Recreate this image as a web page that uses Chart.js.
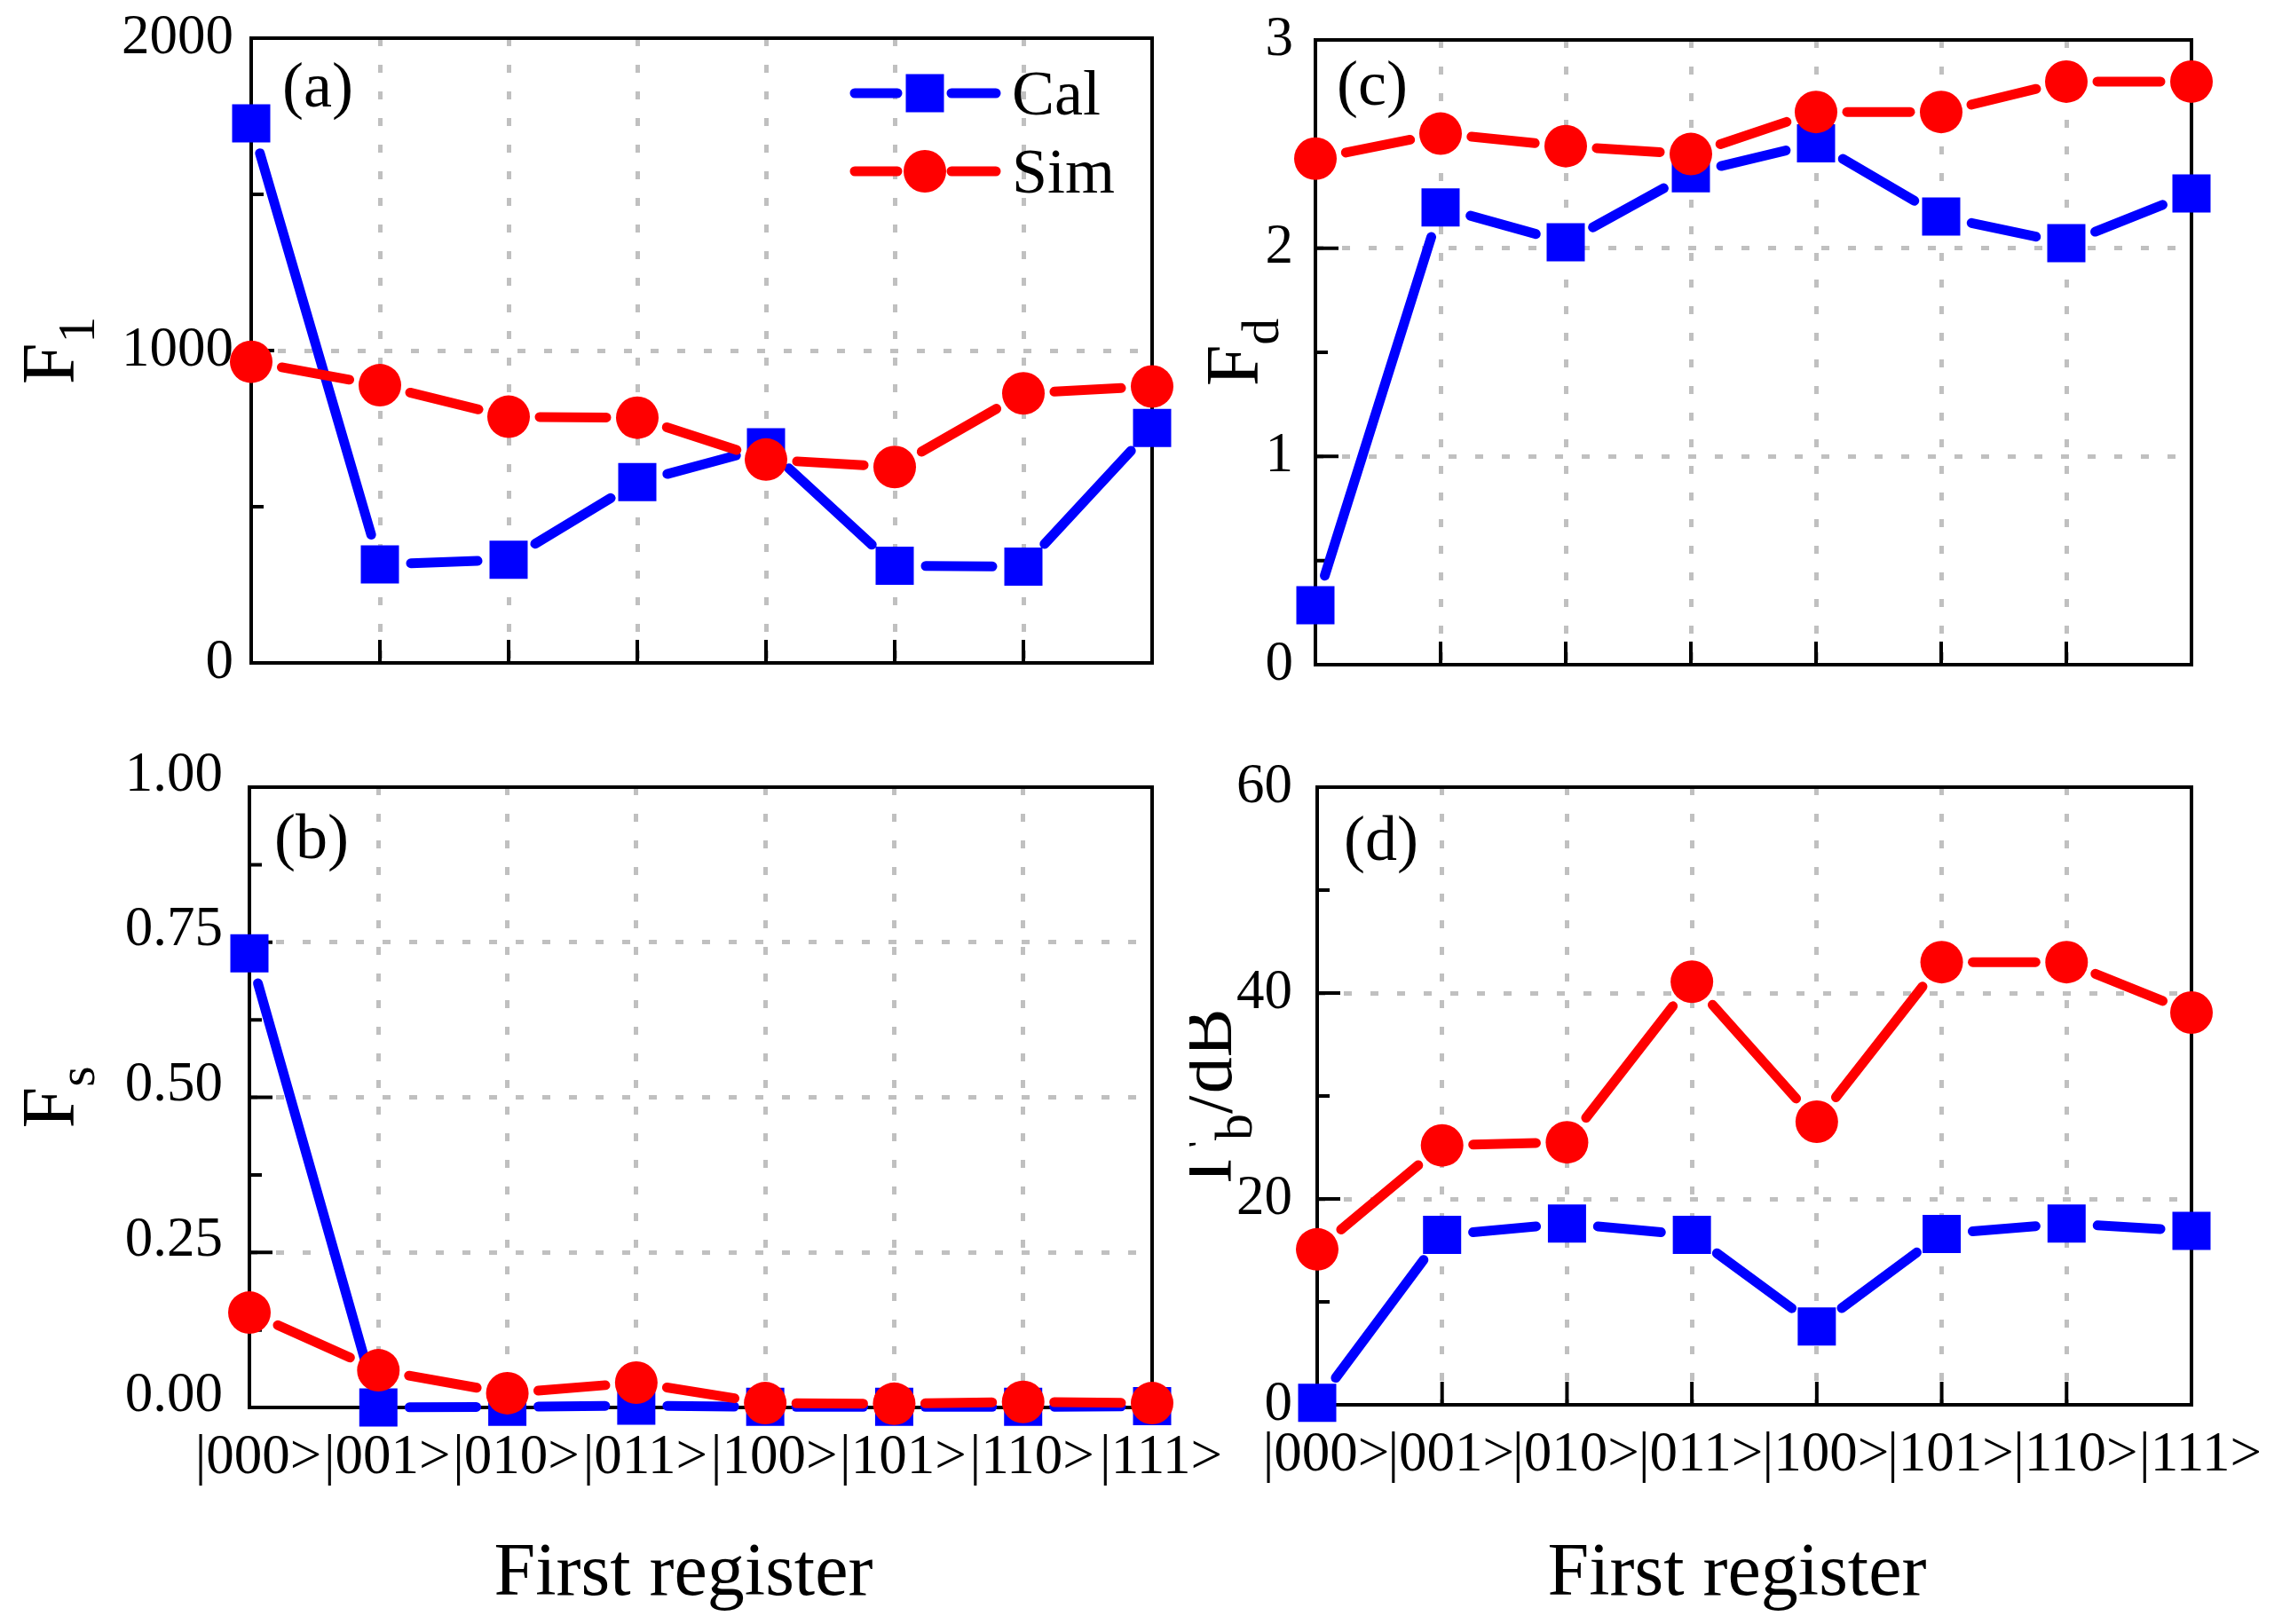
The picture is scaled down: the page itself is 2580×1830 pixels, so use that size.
<!DOCTYPE html>
<html>
<head>
<meta charset="utf-8">
<script src="https://cdn.jsdelivr.net/npm/chart.js@4/dist/chart.umd.min.js"></script>
<style>
  html, body { margin: 0; padding: 0; background: #ffffff; }
  body { width: 2580px; height: 1830px; position: relative; overflow: hidden; }
  canvas { position: absolute; }
</style>
</head>
<body>
<canvas id="ca"></canvas>
<canvas id="cb"></canvas>
<canvas id="cc"></canvas>
<canvas id="cd"></canvas>
<script>
// ---------------- data ----------------
const categories = ['|000>', '|001>', '|010>', '|011>', '|100>', '|101>', '|110>', '|111>'];
const seriesNames = ['Cal', 'Sim'];

const f1Cal = [1727, 315, 330, 579, 690, 311, 308, 752];
const f1Sim = [964, 889, 788, 785, 651, 627, 863, 885];

const fsCal = [0.732, 0.000, 0.001, 0.003, 0.001, 0.001, 0.001, 0.002];
const fsSim = [0.153, 0.060, 0.023, 0.040, 0.007, 0.006, 0.009, 0.007];

const fdCal = [0.285, 2.196, 2.028, 2.360, 2.504, 2.152, 2.024, 2.263];
const fdSim = [2.430, 2.550, 2.490, 2.452, 2.654, 2.654, 2.800, 2.800];

const gbCal = [0.2, 16.5, 17.6, 16.5, 7.6, 16.6, 17.6, 16.9];
const gbSim = [15.1, 25.2, 25.5, 41.1, 27.5, 43.0, 43.0, 38.1];

// tick values (major = labelled, minor = unlabelled)
const f1Major = [0, 1000, 2000];
const f1Minor = [500, 1500];
const fsMajor = [0, 0.25, 0.5, 0.75, 1.0];
const fsMinor = [0.125, 0.375, 0.625, 0.875];
const fdMajor = [0, 1, 2, 3];
const fdMinor = [0.5, 1.5, 2.5];
const gbMajor = [0, 20, 40, 60];
const gbMinor = [10, 30, 50];

const xTitleText = 'First register';

// ---------------- layout / style ----------------
const FONT = '"Liberation Serif", "Times New Roman", serif';
const BLUE = '#0000ff';
const RED = '#ff0000';
const GRID = '#c0c0c0';
const GAP = 35;
const LINE_W = 11;

const panels = [
  { id: 'ca', canvas: [0, -40, 1340, 870], area: [283, 43, 1298, 747],
    cal: f1Cal, sim: f1Sim, major: f1Major, minor: f1Minor, dec: 0, lpad: 20, lshift: 0,
    xLabels: false, letter: ['(a)', 318, 120],
    title: { parts: [['F', 84, 0], ['1', 60, 23]], bx: 83 }, legend: true },
  { id: 'cb', canvas: [0, 790, 1420, 1040], area: [281, 887, 1298, 1586],
    cal: fsCal, sim: fsSim, major: fsMajor, minor: fsMinor, dec: 2, lpad: 30, lshift: -13,
    xLabels: true, letter: ['(b)', 309, 967],
    title: { parts: [['F', 84, 0], ['s', 60, 23]], bx: 83 }, xTitle: [770, 1797] },
  { id: 'cc', canvas: [1340, -40, 1240, 870], area: [1482, 45, 2469, 749],
    cal: fdCal, sim: fdSim, major: fdMajor, minor: fdMinor, dec: 0, lpad: 25, lshift: 0,
    xLabels: false, letter: ['(c)', 1506, 118],
    title: { parts: [['F', 84, 0], ['d', 60, 23]], bx: 1417 } },
  { id: 'cd', canvas: [1340, 790, 1240, 1040], area: [1484, 887, 2469, 1583],
    cal: gbCal, sim: gbSim, major: gbMajor, minor: gbMinor, dec: 0, lpad: 28, lshift: 0,
    xLabels: true, letter: ['(d)', 1514, 969],
    title: { parts: [['\u0393', 84, 0], ['b', 60, 23], ['/dB', 82, 0]], bx: 1387 }, xTitle: [1957, 1797] }
];

function isMajor(list, v) { return list.some(m => Math.abs(m - v) < 1e-9); }

// length in pixels of one line segment, measured through the chart's own scales
function segLen(c) {
  const ch = c.chart;
  const xs = ch.scales.x, ys = ch.scales.y;
  const d = ch.data.datasets[c.datasetIndex].data;
  const x0 = xs.getPixelForValue(c.p0DataIndex), x1 = xs.getPixelForValue(c.p1DataIndex);
  const y0 = ys.getPixelForValue(d[c.p0DataIndex]), y1 = ys.getPixelForValue(d[c.p1DataIndex]);
  return Math.hypot(x1 - x0, y1 - y0);
}
function gapDash(c) {
  const L = segLen(c);
  const dash = Math.max(L - 2 * GAP, 0.5);
  return [dash, L + 100000];
}
function gapOffset(c) { return -GAP - c.p0DataIndex * 1e-4; }

function makeChart(p) {
  const [cl, ct, cw, ch] = p.canvas;
  const [L, T, R, B] = p.area;
  const cv = document.getElementById(p.id);
  cv.width = cw; cv.height = ch;
  cv.style.left = cl + 'px'; cv.style.top = ct + 'px';
  cv.style.width = cw + 'px'; cv.style.height = ch + 'px';

  const yMin = p.major[0], yMax = p.major[p.major.length - 1];
  const allTicks = p.major.concat(p.minor).sort((a, b) => a - b);

  const framePlugin = {
    id: 'frame_' + p.id,
    beforeDatasetsDraw(chart) {
      const { ctx, chartArea: a, scales: { x, y } } = chart;
      ctx.save();
      ctx.strokeStyle = '#000';
      ctx.lineWidth = 4;
      ctx.lineCap = 'butt';
      ctx.setLineDash([]);
      ctx.beginPath();
      for (let i = 1; i < categories.length - 1; i++) {
        const xx = x.getPixelForValue(i);
        ctx.moveTo(xx, a.bottom); ctx.lineTo(xx, a.bottom - 26);
      }
      for (const v of p.major) {
        if (v === yMin || v === yMax) continue;
        const yy = y.getPixelForValue(v);
        ctx.moveTo(a.left, yy); ctx.lineTo(a.left + 26, yy);
      }
      for (const v of p.minor) {
        const yy = y.getPixelForValue(v);
        ctx.moveTo(a.left, yy); ctx.lineTo(a.left + 14, yy);
      }
      ctx.stroke();
      ctx.lineJoin = 'miter';
      ctx.strokeRect(a.left, a.top, a.right - a.left, a.bottom - a.top);
      ctx.restore();
    }
  };

  const textPlugin = {
    id: 'text_' + p.id,
    afterDatasetsDraw(chart) {
      const ctx = chart.ctx;
      ctx.save();
      ctx.setLineDash([]);
      ctx.fillStyle = '#000';
      ctx.textBaseline = 'alphabetic';
      ctx.textAlign = 'left';
      // panel letter
      ctx.font = '72px ' + FONT;
      ctx.fillText(p.letter[0], p.letter[1] - cl, p.letter[2] - ct);
      // y title (rotated, with subscript)
      const a = chart.chartArea;
      const cy = (a.top + a.bottom) / 2;
      ctx.save();
      ctx.translate(p.title.bx - cl, cy);
      ctx.rotate(-Math.PI / 2);
      let total = 0;
      const widths = p.title.parts.map(([t, s]) => { ctx.font = s + 'px ' + FONT; const w = ctx.measureText(t).width; total += w; return w; });
      let xx = -total / 2;
      p.title.parts.forEach(([t, s, dy], i) => {
        ctx.font = s + 'px ' + FONT;
        ctx.fillText(t, xx, dy);
        xx += widths[i];
      });
      ctx.restore();
      // x title
      if (p.xTitle) {
        ctx.font = '84px ' + FONT;
        ctx.textAlign = 'center';
        ctx.fillText(xTitleText, p.xTitle[0] - cl, p.xTitle[1] - ct);
      }
      // legend
      if (p.legend) {
        const rows = [105, 193];
        chart.data.datasets.slice().sort((u, v) => u.legendIndex - v.legendIndex).forEach((ds, i) => {
          const yy = rows[i] - ct;
          ctx.strokeStyle = ds.borderColor;
          ctx.lineWidth = LINE_W;
          ctx.lineCap = 'round';
          ctx.beginPath();
          ctx.moveTo(963 - cl, yy); ctx.lineTo(1011 - cl, yy);
          ctx.moveTo(1072 - cl, yy); ctx.lineTo(1122 - cl, yy);
          ctx.stroke();
          ctx.fillStyle = ds.pointBackgroundColor;
          const mx = 1042 - cl, r = ds.pointRadius;
          ctx.beginPath();
          if (ds.pointStyle === 'rect') {
            const h = r * Math.SQRT1_2;
            ctx.rect(mx - h, yy - h, 2 * h, 2 * h);
          } else {
            ctx.arc(mx, yy, r, 0, Math.PI * 2);
          }
          ctx.fill();
          ctx.fillStyle = '#000';
          ctx.font = '72px ' + FONT;
          ctx.textAlign = 'left';
          ctx.fillText(ds.label, 1140 - cl, yy + 24);
        });
      }
      ctx.restore();
    }
  };

  function ds(label, data, color, style, radius, order, li) {
    return {
      label, data, order, legendIndex: li,
      borderColor: color, backgroundColor: color,
      borderWidth: LINE_W, borderCapStyle: 'round', borderJoinStyle: 'round',
      pointBackgroundColor: color, pointBorderColor: color, pointBorderWidth: 0,
      pointStyle: style, pointRadius: radius,
      fill: false, tension: 0, clip: false,
      segment: {
        borderDash: gapDash,
        borderDashOffset: gapOffset,
        borderWidth: LINE_W,
        borderCapStyle: 'round',
        borderJoinStyle: 'round',
        borderColor: color
      }
    };
  }

  return new Chart(cv, {
    type: 'line',
    data: {
      labels: categories,
      datasets: [
        ds(seriesNames[0], p.cal, BLUE, 'rect', 30.4, 2, 0),
        ds(seriesNames[1], p.sim, RED, 'circle', 24, 1, 1)
      ]
    },
    options: {
      responsive: false,
      animation: false,
      events: [],
      layout: {
        autoPadding: false,
        padding: { left: 0, top: T - ct, right: cl + cw - R, bottom: 0 }
      },
      plugins: { legend: { display: false }, tooltip: { enabled: false }, title: { display: false } },
      scales: {
        x: {
          type: 'category',
          offset: false,
          afterFit: s => { s.height = ct + ch - B; },
          grid: {
            display: true,
            drawTicks: false,
            lineWidth: 5,
            color: c => (c.index > 0 && c.index < categories.length - 1) ? GRID : 'rgba(0,0,0,0)'
          },
          border: { display: false, dash: [9, 21] },
          ticks: {
            display: p.xLabels,
            autoSkip: false,
            maxRotation: 0,
            minRotation: 0,
            padding: 20,
            labelOffset: 10,
            color: '#000',
            font: { family: 'Liberation Serif', size: 63 }
          }
        },
        y: {
          type: 'linear',
          min: yMin,
          max: yMax,
          afterFit: s => { s.width = L - cl; },
          afterBuildTicks: s => { s.ticks = allTicks.map(v => ({ value: v })); },
          grid: {
            display: true,
            drawTicks: false,
            lineWidth: 5,
            color: c => (c.tick && isMajor(p.major, c.tick.value) && c.tick.value !== yMin && c.tick.value !== yMax) ? GRID : 'rgba(0,0,0,0)'
          },
          border: { display: false, dash: [9, 21] },
          ticks: {
            padding: p.lpad,
            labelOffset: p.lshift,
            color: '#000',
            font: { family: 'Liberation Serif', size: 63 },
            callback: v => isMajor(p.major, v) ? Number(v).toFixed(p.dec) : ''
          }
        }
      }
    },
    plugins: [framePlugin, textPlugin]
  });
}

panels.forEach(makeChart);
</script>
</body>
</html>
